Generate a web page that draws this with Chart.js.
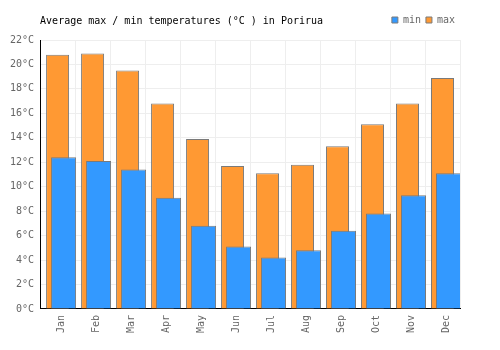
<!DOCTYPE html>
<html>
<head>
<meta charset="utf-8">
<script src="https://cdn.jsdelivr.net/npm/chart.js@4.4.0/dist/chart.umd.min.js"></script>
<style>
  html, body { margin: 0; padding: 0; background: #fff; }
  #wrap { width: 500px; height: 350px; }
</style>
</head>
<body>
<div id="wrap"><canvas id="tempChart" width="500" height="350"></canvas></div>
<script>
const months = ['Jan', 'Feb', 'Mar', 'Apr', 'May', 'Jun', 'Jul', 'Aug', 'Sep', 'Oct', 'Nov', 'Dec'];
const minTemps = [12.4, 12.1, 11.4, 9.1, 6.8, 5.1, 4.2, 4.8, 6.4, 7.8, 9.3, 11.1];
const maxTemps = [20.8, 20.9, 19.5, 16.8, 13.9, 11.7, 11.1, 11.8, 13.3, 15.1, 16.8, 18.9];
const yTicks = [0, 2, 4, 6, 8, 10, 12, 14, 16, 18, 20, 22];

const MONO = 'DejaVu Sans Mono';

// empty dataset so the min bars sit in the right half of a 2-slot group
const spacer = months.map(() => null);

const ctx = document.getElementById('tempChart').getContext('2d');
const myChart = new Chart(ctx, {
    type: 'bar',
    data: {
        labels: months,
        datasets: [
            {
                label: '_spacer',
                data: spacer,
                stack: 's0',
                categoryPercentage: 24 / 35,
                barPercentage: 25 / 12
            },
            {
                label: 'min',
                data: minTemps,
                stack: 's1',
                backgroundColor: '#3399ff',
                borderColor: '#7a7a7a',
                borderWidth: 1,
                categoryPercentage: 24 / 35,
                barPercentage: 25 / 12
            },
            {
                label: 'max',
                data: maxTemps,
                stack: 's2',
                grouped: false,
                backgroundColor: '#ff9933',
                borderColor: '#7a7a7a',
                borderWidth: 1,
                categoryPercentage: 1,
                barPercentage: 23 / 35
            }
        ]
    },
    options: {
        responsive: false,
        animation: false,
        layout: {
            padding: { left: 4, right: 40, top: 10, bottom: 11 }
        },
        plugins: {
            tooltip: { enabled: false },
            legend: {
                position: 'top',
                align: 'end',
                weight: 3000, // legend row above the title box
                labels: {
                    boxWidth: 6,
                    boxHeight: 6,
                    padding: 5,
                    color: '#666',
                    font: { family: MONO, size: 10 },
                    filter: (item) => item.text !== '_spacer'
                }
            },
            title: {
                display: true,
                text: 'Average max / min temperatures (°C ) in Porirua',
                align: 'start',
                fullSize: false,
                color: '#000',
                font: { family: MONO, size: 10, weight: 'normal', lineHeight: 1.2 },
                // pulled up so it shares the legend's row
                padding: { top: -19.5, bottom: 12.5 }
            }
        },
        scales: {
            x: {
                grid: { color: '#eeeeee', drawTicks: false, offset: true },
                border: { color: '#000', width: 1 },
                ticks: {
                    color: '#666',
                    font: { family: MONO, size: 10 },
                    minRotation: 90,
                    maxRotation: 90,
                    padding: 6,
                    labelOffset: 4
                }
            },
            y: {
                min: yTicks[0],
                max: yTicks[yTicks.length - 1],
                grid: { color: '#eeeeee', drawTicks: false },
                border: { color: '#000', width: 1 },
                ticks: {
                    stepSize: yTicks[1] - yTicks[0],
                    color: '#666',
                    padding: 6,
                    font: { family: MONO, size: 10 },
                    callback: (v) => v + '°C'
                }
            }
        }
    }
});
</script>
</body>
</html>
